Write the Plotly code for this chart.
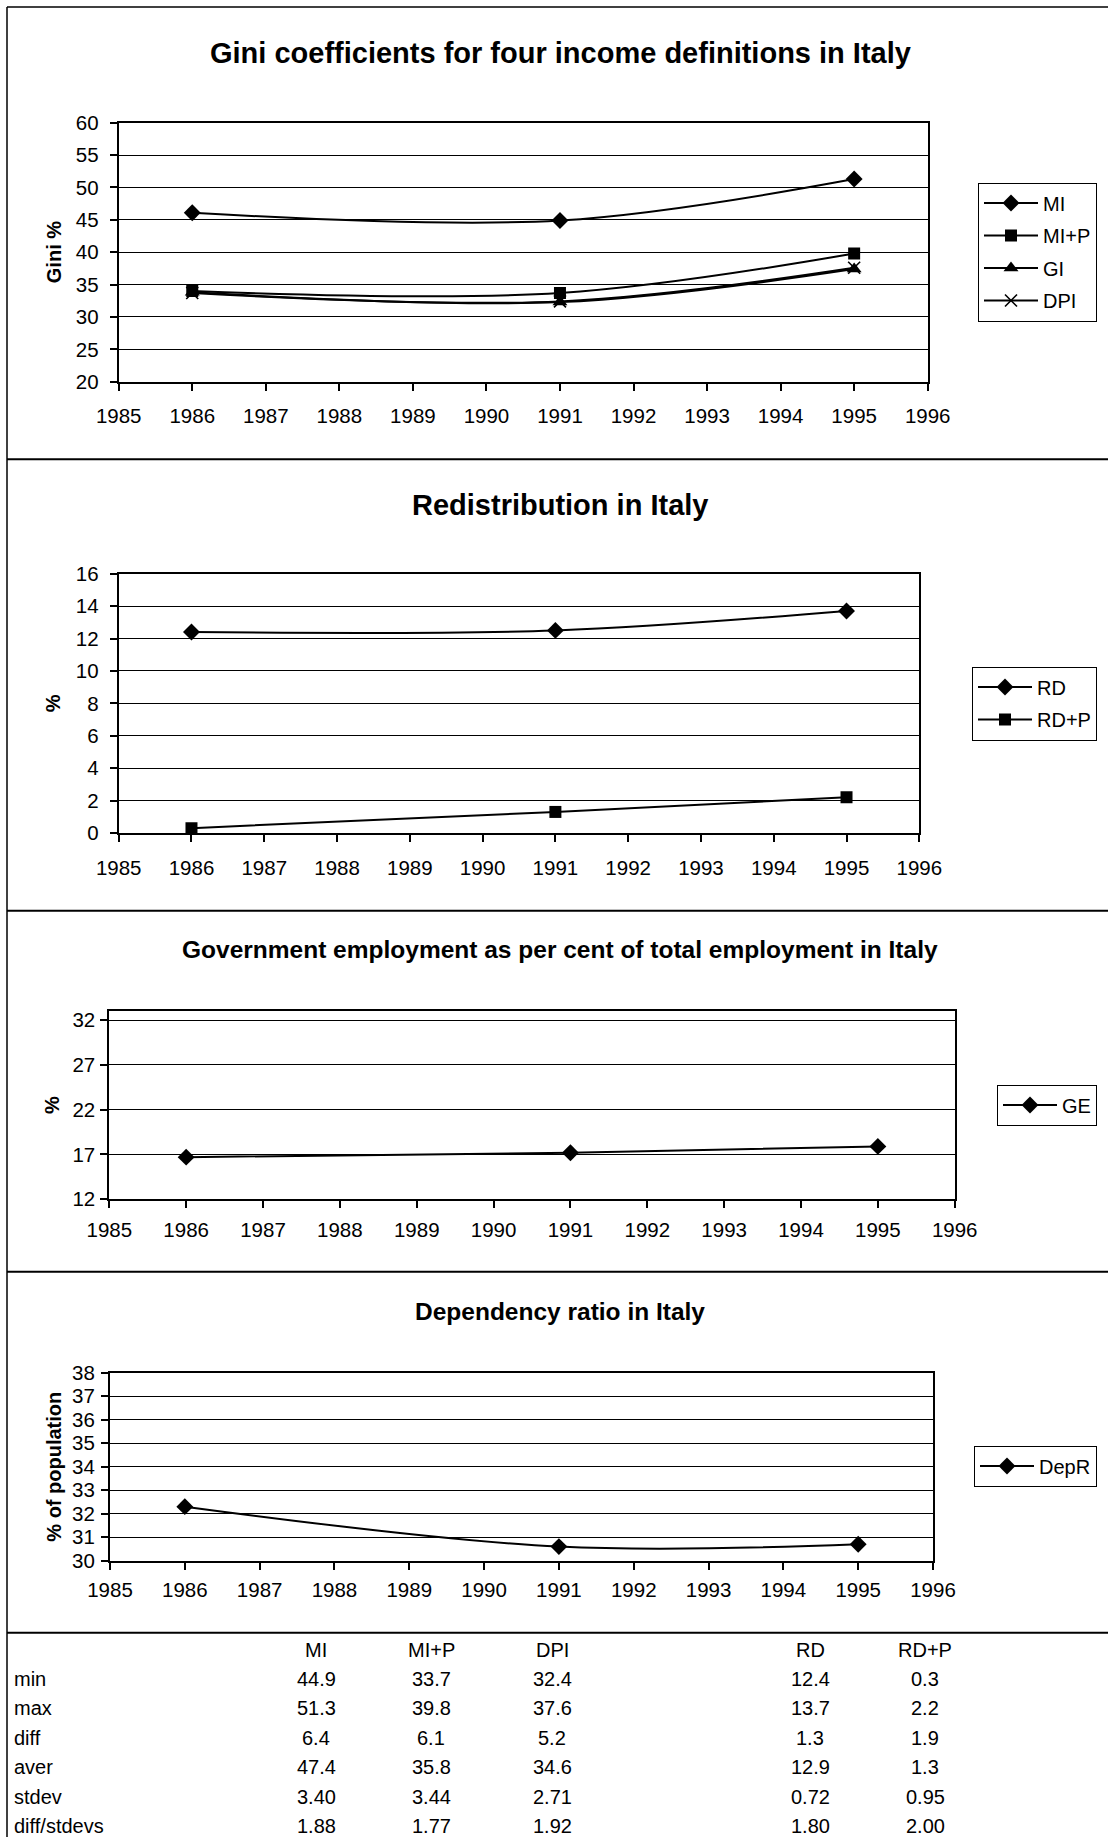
import plotly.graph_objects as go

W, H = 1108, 1837

# ---------------- data ----------------
years = [1986, 1991, 1995]
x_ticks = list(range(1985, 1997))

gini_mi = [46.1, 44.9, 51.3]
gini_mi_p = [34.0, 33.7, 39.8]
gini_gi = [33.8, 32.3, 37.4]
gini_dpi = [33.7, 32.4, 37.6]

redis_rd = [12.4, 12.5, 13.7]
redis_rd_p = [0.3, 1.3, 2.2]

gov_emp = [16.7, 17.2, 17.9]

dep_ratio = [32.3, 30.6, 30.7]

table_columns = ["MI", "MI+P", "DPI", "RD", "RD+P"]
table_rows = ["min", "max", "diff", "aver", "stdev", "diff/stdevs"]
tab_mi = [44.9, 51.3, 6.4, 47.4, 3.40, 1.88]
tab_mi_p = [33.7, 39.8, 6.1, 35.8, 3.44, 1.77]
tab_dpi = [32.4, 37.6, 5.2, 34.6, 2.71, 1.92]
tab_rd = [12.4, 13.7, 1.3, 12.9, 0.72, 1.80]
tab_rd_p = [0.3, 2.2, 1.9, 1.3, 0.95, 2.00]

# ---------------- styling / layout ----------------
FONT = "Arial, 'Liberation Sans', sans-serif"
row_decimals = [1, 1, 1, 1, 2, 2]
table_values = [tab_mi, tab_mi_p, tab_dpi, tab_rd, tab_rd_p]


def fx(px):
    return px / W


def fy(py):
    return 1 - py / H


panels = [
    dict(box=(118.7, 927.7, 122.7, 381.7), yrange=(20, 60), tick0=20, dtick=5,
         title="Gini coefficients for four income definitions in Italy", title_y=53.3, title_size=29,
         ytitle="Gini %", ytitle_x=54, legend_y=252, ystand=7, xstand=8),
    dict(box=(118.7, 919.3, 573.7, 833.0), yrange=(0, 16), tick0=0, dtick=2,
         title="Redistribution in Italy", title_y=505, title_size=29,
         ytitle="%", ytitle_x=53, legend_y=703.5, ystand=7, xstand=8),
    dict(box=(109.3, 954.7, 1010.7, 1199.3), yrange=(12, 33.04), tick0=12, dtick=5,
         title="Government employment as per cent of total employment in Italy", title_y=949.3, title_size=24.5,
         ytitle="%", ytitle_x=52, legend_y=1105, ystand=1, xstand=4),
    dict(box=(110.0, 933.0, 1372.7, 1560.7), yrange=(30, 38), tick0=30, dtick=1,
         title="Dependency ratio in Italy", title_y=1311.7, title_size=24.5,
         ytitle="% of population", ytitle_x=54, legend_y=1466, ystand=2, xstand=3),
]

series = [
    (0, "MI", gini_mi, "diamond", 13),
    (0, "MI+P", gini_mi_p, "square", 12),
    (0, "GI", gini_gi, "triangle-up", 13),
    (0, "DPI", gini_dpi, "x-thin", 12),
    (1, "RD", redis_rd, "diamond", 13),
    (1, "RD+P", redis_rd_p, "square", 12),
    (2, "GE", gov_emp, "diamond", 13),
    (3, "DepR", dep_ratio, "diamond", 13),
]

fig = go.Figure()

for i, (p, name, vals, sym, size) in enumerate(series):
    suffix = "" if p == 0 else str(p + 1)
    fig.add_trace(go.Scatter(
        x=years, y=vals, name=name, mode="lines+markers",
        xaxis="x" + suffix, yaxis="y" + suffix,
        legend="legend" + suffix, legendgroup=f"g{i}",
        line=dict(color="black", width=2, shape="spline", smoothing=1.0),
        marker=dict(symbol=sym, size=size, color="black",
                    line=dict(color="black", width=1.6 if sym == "x-thin" else 0)),
    ))

layout = dict(
    width=W, height=H, autosize=False,
    margin=dict(l=0, r=0, t=0, b=0, pad=0, autoexpand=False),
    paper_bgcolor="white", plot_bgcolor="white",
    font=dict(family=FONT, color="black", size=20),
    showlegend=True,
)

annotations = []
shapes = []

for p, pan in enumerate(panels):
    suffix = "" if p == 0 else str(p + 1)
    x0, x1, y0, y1 = pan["box"]
    layout["xaxis" + suffix] = dict(
        domain=[fx(x0), fx(x1)], anchor="y" + suffix, automargin=False,
        range=[1985, 1996], tickmode="array", tickvals=x_ticks,
        ticktext=[str(t) for t in x_ticks],
        ticks="outside", ticklen=7, tickwidth=1.5, tickcolor="black",
        showline=True, linecolor="black", linewidth=2, mirror=True,
        showgrid=False, zeroline=False,
        tickfont=dict(family=FONT, size=20.5, color="black"),
        ticklabelstandoff=pan["xstand"], fixedrange=True,
    )
    layout["yaxis" + suffix] = dict(
        domain=[fy(y1), fy(y0)], anchor="x" + suffix, automargin=False,
        range=list(pan["yrange"]), tick0=pan["tick0"], dtick=pan["dtick"],
        ticks="outside", ticklen=7, tickwidth=1.5, tickcolor="black",
        showline=True, linecolor="black", linewidth=2, mirror=True,
        showgrid=True, gridcolor="black", gridwidth=1, zeroline=False,
        tickfont=dict(family=FONT, size=20.5, color="black"),
        ticklabelstandoff=pan["ystand"], fixedrange=True,
    )
    layout["legend" + suffix] = dict(
        x=fx(1097), xanchor="right", y=fy(pan["legend_y"]), yanchor="middle",
        bordercolor="black", borderwidth=1, bgcolor="white",
        font=dict(family=FONT, size=20, color="black"),
        traceorder="grouped", tracegroupgap=3.5, itemwidth=54,
    )
    annotations.append(dict(
        text="<b>" + pan["title"] + "</b>", xref="paper", yref="paper",
        x=fx(560), y=fy(pan["title_y"]), xanchor="center", yanchor="middle",
        showarrow=False, font=dict(family=FONT, size=pan["title_size"], color="black"),
    ))
    annotations.append(dict(
        text="<b>" + pan["ytitle"] + "</b>", xref="paper", yref="paper",
        x=fx(pan["ytitle_x"]), y=fy((y0 + y1) / 2), xanchor="center", yanchor="middle",
        textangle=-90, showarrow=False, font=dict(family=FONT, size=20, color="black"),
    ))

# outer frame and panel separators
frame_left, frame_top = 7, 7
shapes.append(dict(type="line", xref="paper", yref="paper", x0=fx(frame_left), x1=1,
                   y0=fy(frame_top), y1=fy(frame_top), line=dict(color="black", width=1.5)))
shapes.append(dict(type="line", xref="paper", yref="paper", x0=fx(frame_left), x1=fx(frame_left),
                   y0=fy(frame_top), y1=0, line=dict(color="black", width=1.5)))
for sep in [459.3, 910.7, 1271.7, 1632.7]:
    shapes.append(dict(type="line", xref="paper", yref="paper", x0=fx(frame_left), x1=1,
                       y0=fy(sep), y1=fy(sep), line=dict(color="black", width=2)))

# summary table
col_x = [316, 431, 552, 810, 925]
header_y, row_y0, row_step = 1650, 1679, 29.4
label_x = 12
TABLE_SIZE = 20
for c, name in enumerate(table_columns):
    annotations.append(dict(text=name, xref="paper", yref="paper", x=fx(col_x[c]), y=fy(header_y),
                            xanchor="center", yanchor="middle", showarrow=False,
                            font=dict(family=FONT, size=TABLE_SIZE, color="black")))
for r, rname in enumerate(table_rows):
    yy = fy(row_y0 + row_step * r)
    annotations.append(dict(text=rname, xref="paper", yref="paper", x=fx(label_x), y=yy,
                            xanchor="left", yanchor="middle", showarrow=False,
                            font=dict(family=FONT, size=TABLE_SIZE, color="black")))
    for c, vals in enumerate(table_values):
        annotations.append(dict(text=f"{vals[r]:.{row_decimals[r]}f}", xref="paper", yref="paper",
                                x=fx(col_x[c]), y=yy, xanchor="center", yanchor="middle",
                                showarrow=False, font=dict(family=FONT, size=TABLE_SIZE, color="black")))

layout["annotations"] = annotations
layout["shapes"] = shapes
fig.update_layout(**layout)

page_fix = ("document.documentElement.style.margin='0';document.body.style.margin='0';"
            "document.body.style.padding='0';document.documentElement.style.overflow='hidden';"
            "document.body.style.overflow='hidden';")
fig.write_html("out.html", post_script=page_fix, config={"displayModeBar": False})
